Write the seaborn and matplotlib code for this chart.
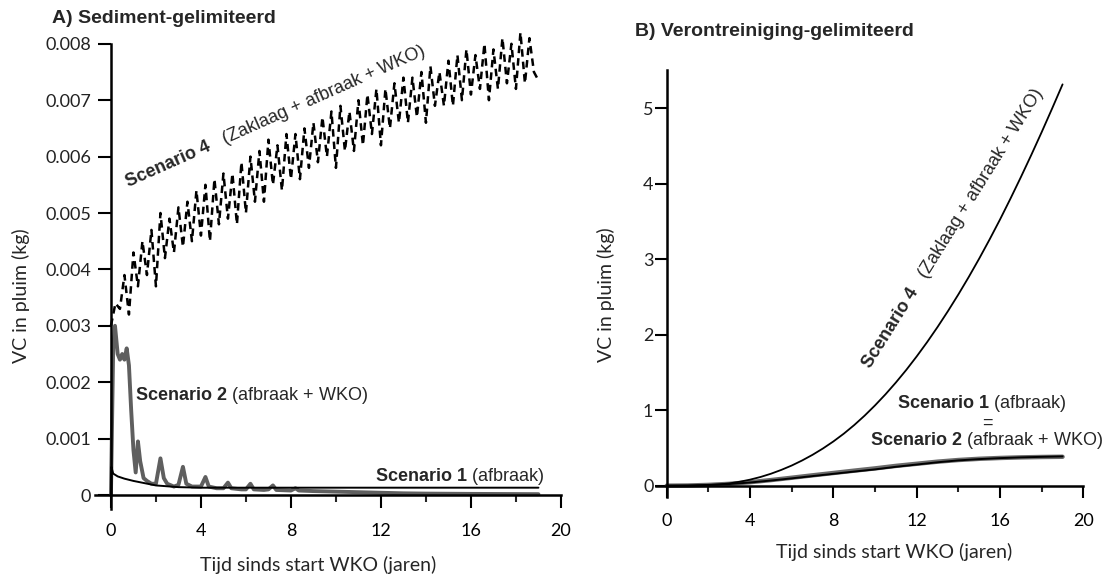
import matplotlib
matplotlib.use("Agg")
import numpy as np
import pandas as pd
import matplotlib.pyplot as plt
from matplotlib.ticker import FixedLocator, FixedFormatter
import seaborn as sns

# ---------------- data ----------------
# Panel A (sediment-limited); VC values read in gram, converted to kg when plotted
a_s4_t = [0.0, 0.2, 0.4, 0.6, 0.8, 1.0, 1.2, 1.4, 1.6, 1.8,
          2.0, 2.2, 2.4, 2.6, 2.8, 3.0, 3.2, 3.4, 3.6, 3.8,
          4.0, 4.2, 4.4, 4.6, 4.8, 5.0, 5.2, 5.4, 5.6, 5.8,
          6.0, 6.2, 6.4, 6.6, 6.8, 7.0, 7.2, 7.4, 7.6, 7.8,
          8.0, 8.2, 8.4, 8.6, 8.8, 9.0, 9.2, 9.4, 9.6, 9.8,
          10.0, 10.2, 10.4, 10.6, 10.8, 11.0, 11.2, 11.4, 11.6, 11.8,
          12.0, 12.2, 12.4, 12.6, 12.8, 13.0, 13.2, 13.4, 13.6, 13.8,
          14.0, 14.2, 14.4, 14.6, 14.8, 15.0, 15.2, 15.4, 15.6, 15.8,
          16.0, 16.2, 16.4, 16.6, 16.8, 17.0, 17.2, 17.4, 17.6, 17.8,
          18.0, 18.2, 18.4, 18.6, 18.8, 19.0]
a_s4_g = [3.0, 3.4, 3.3, 3.9, 3.2, 4.3, 3.7, 4.5, 3.9, 4.7,
          3.7, 5.0, 4.2, 4.9, 4.3, 5.1, 4.4, 5.2, 4.5, 5.4,
          4.6, 5.5, 4.5, 5.6, 4.8, 5.7, 4.9, 5.7, 4.8, 5.9,
          5.0, 6.0, 5.2, 6.1, 5.2, 6.3, 5.5, 6.2, 5.4, 6.4,
          5.6, 6.4, 5.6, 6.5, 5.8, 6.6, 5.9, 6.7, 6.0, 6.8,
          5.8, 6.9, 6.1, 6.8, 6.1, 7.0, 6.2, 7.1, 6.4, 7.2,
          6.2, 7.2, 6.5, 7.3, 6.6, 7.4, 6.6, 7.4, 6.7, 7.5,
          6.6, 7.6, 6.9, 7.5, 6.9, 7.7, 6.9, 7.8, 7.0, 7.9,
          7.1, 7.8, 7.2, 8.0, 7.0, 7.9, 7.2, 8.1, 7.3, 8.0,
          7.2, 8.2, 7.3, 8.1, 7.5, 7.35]

a_s2_t = [0, 0.1, 0.18, 0.3, 0.4, 0.5, 0.6, 0.7, 0.8, 0.9,
          1.0, 1.1, 1.2, 1.3, 1.45, 1.6, 1.8, 2.0, 2.2, 2.35,
          2.5, 2.8, 3.0, 3.2, 3.35, 3.6, 4.0, 4.2, 4.35, 4.7,
          5.0, 5.2, 5.35, 5.8, 6.0, 6.2, 6.35, 6.8, 7.0, 7.2,
          7.35, 8.0, 8.2, 8.35, 9.0, 10.0, 11.0, 12.0, 13.0, 14.0,
          16.0, 19.0]
a_s2_g = [0.0, 2.6, 3.0, 2.5, 2.4, 2.5, 2.4, 2.6, 2.3, 1.5,
          0.8, 0.4, 0.95, 0.6, 0.3, 0.25, 0.2, 0.2, 0.65, 0.3,
          0.2, 0.15, 0.18, 0.5, 0.2, 0.15, 0.15, 0.32, 0.15, 0.12,
          0.12, 0.22, 0.12, 0.1, 0.1, 0.2, 0.1, 0.09, 0.1, 0.17,
          0.09, 0.08, 0.12, 0.08, 0.07, 0.06, 0.05, 0.04, 0.03, 0.025,
          0.02, 0.015]

a_s1_t = [0, 0.02, 0.1, 0.3, 0.6, 1.0, 1.5, 2.0, 3.0, 4.0, 6.0, 10.0, 19.0]
a_s1_g = [0.0, 0.5, 0.38, 0.33, 0.29, 0.25, 0.21, 0.17, 0.14, 0.13, 0.13, 0.13, 0.13]

# Panel B (contamination-limited), kg
b4_t = [0, 0.5, 1, 1.5, 2, 2.5, 3, 3.5, 4, 4.5, 5, 5.5, 6, 6.5, 7, 7.5, 8, 8.5, 9, 9.5,
        10, 10.5, 11, 11.5, 12, 12.5, 13, 13.5, 14, 14.5, 15, 15.5, 16, 16.5, 17, 17.5,
        18, 18.5, 19]
b_s4 = [0, 0.0003, 0.001, 0.004, 0.008, 0.016, 0.030, 0.052, 0.080, 0.115,
        0.158, 0.209, 0.267, 0.334, 0.409, 0.493, 0.586, 0.689, 0.803, 0.928,
        1.064, 1.210, 1.367, 1.534, 1.713, 1.902, 2.102, 2.313, 2.534, 2.766,
        3.009, 3.263, 3.527, 3.803, 4.088, 4.382, 4.685, 4.997, 5.316]
b_t = [0, 1, 2, 3, 4, 5, 6, 7, 8, 9, 10, 11, 12, 13, 14, 15, 16, 17, 18, 19]
b_s1 = [0, 0.002, 0.01, 0.022, 0.042, 0.068, 0.097, 0.127, 0.157, 0.187,
        0.216, 0.25, 0.28, 0.31, 0.335, 0.352, 0.365, 0.375, 0.382, 0.388]
b_s2 = [0, 0.002, 0.01, 0.024, 0.046, 0.074, 0.105, 0.137, 0.168, 0.199,
        0.229, 0.262, 0.29, 0.318, 0.34, 0.356, 0.367, 0.375, 0.38, 0.383]

a_yticks = [0, 0.001, 0.002, 0.003, 0.004, 0.005, 0.006, 0.007, 0.008]
a_yticklabels = ["0", "0.001", "0.002", "0.003", "0.004", "0.005", "0.006", "0.007", "0.008"]
b_yticks = [0, 1, 2, 3, 4, 5]
b_yticklabels = ["0", "1", "2", "3", "4", "5"]
x_major = [0, 4, 8, 12, 16, 20]
x_major_labels = ["0", "4", "8", "12", "16", "20"]
x_minor = [2, 6, 10, 14, 18]

# ---------------- style ----------------
sns.set_style("white")
plt.rcParams["font.family"] = ["Lato", "DejaVu Sans"]
plt.rcParams["mathtext.fontset"] = "custom"
plt.rcParams["mathtext.rm"] = "Liberation Sans"
plt.rcParams["mathtext.bf"] = "Liberation Sans:bold"
ANN = ["Liberation Sans", "DejaVu Sans"]
FS_ANN = 13

fig = plt.figure(figsize=(11.12, 5.8), dpi=100)
axA = fig.add_axes([0.0854, 0.1222, 0.4251, 0.8412])
axB = fig.add_axes([0.5902, 0.1431, 0.3897, 0.7484])

dfA4 = pd.DataFrame({"t": a_s4_t, "v": np.array(a_s4_g) / 1000.0})
dfA2 = pd.DataFrame({"t": a_s2_t, "v": np.array(a_s2_g) / 1000.0})
dfA1 = pd.DataFrame({"t": a_s1_t, "v": np.array(a_s1_g) / 1000.0})

sns.lineplot(data=dfA2, x="t", y="v", ax=axA, color="#5f5f5f", lw=2.8,
             estimator=None, sort=False)
sns.lineplot(data=dfA1, x="t", y="v", ax=axA, color="black", lw=1.4,
             estimator=None, sort=False)
sns.lineplot(data=dfA4, x="t", y="v", ax=axA, color="black", lw=1.8,
             linestyle=(0, (3, 2)), estimator=None, sort=False, clip_on=False)

dfB4 = pd.DataFrame({"t": b4_t, "s4": b_s4})
dfB = pd.DataFrame({"t": b_t, "s1": b_s1, "s2": b_s2})
sns.lineplot(data=dfB, x="t", y="s2", ax=axB, color="#6a6a6a", lw=3.2, estimator=None)
sns.lineplot(data=dfB, x="t", y="s1", ax=axB, color="black", lw=1.4, estimator=None)
sns.lineplot(data=dfB4, x="t", y="s4", ax=axB, color="black", lw=1.3, estimator=None)


def style_axis(ax, xlim, ylim, ybounds, yticks, ylabels, xmaj_len, xmin_len,
               ylen, ypad, xpad):
    ax.set_xlim(*xlim)
    ax.set_ylim(*ylim)
    for s in ("top", "right"):
        ax.spines[s].set_visible(False)
    ax.spines["left"].set_position(("data", 0))
    ax.spines["bottom"].set_position(("data", 0))
    ax.spines["left"].set_bounds(*ybounds)
    ax.spines["bottom"].set_bounds(xlim[0], 20)
    for s in ("left", "bottom"):
        ax.spines[s].set_linewidth(1.8)
        ax.spines[s].set_color("black")
    ax.xaxis.set_major_locator(FixedLocator(x_major))
    ax.xaxis.set_major_formatter(FixedFormatter(x_major_labels))
    ax.xaxis.set_minor_locator(FixedLocator(x_minor))
    ax.yaxis.set_major_locator(FixedLocator(yticks))
    ax.yaxis.set_major_formatter(FixedFormatter(ylabels))
    ax.tick_params(axis="x", which="major", direction="out", length=xmaj_len, width=1.5,
                   pad=xpad, labelsize=13, colors="black", bottom=True)
    ax.tick_params(axis="x", which="minor", direction="out", length=xmin_len, width=1.5,
                   bottom=True)
    ax.tick_params(axis="y", which="major", direction="out", length=ylen, width=1.5,
                   pad=ypad, labelsize=13, colors="black", left=True)
    ax.grid(False)


style_axis(axA, (-0.71, 20.3), (-0.00025, 0.0084), (-0.00025, 0.008),
           a_yticks, a_yticklabels, 9.4, 5.0, 9.4, 5, 11)
style_axis(axB, (-0.5, 20.3), (-0.15, 5.6), (-0.15, 5.5),
           b_yticks, b_yticklabels, 8.3, 4.5, 8.6, 1, 11.5)
for lab in axA.get_yticklabels() + axB.get_yticklabels():
    lab.set_color("#222222")

for ax, (lx, ly), (xx, xy) in ((axA, (-0.1565, 0.437), (0.4717, -0.1146)),
                               (axB, (-0.116, 0.465), (0.5486, -0.1267))):
    ax.set_ylabel("VC in pluim (kg)", fontsize=14)
    ax.set_xlabel("Tijd sinds start WKO (jaren)", fontsize=14)
    ax.yaxis.set_label_coords(lx, ly)
    ax.xaxis.set_label_coords(xx, xy)
    ax.yaxis.label.set_va("center")
    ax.xaxis.label.set_va("center")

# titles
fig.text(52 / 1112, 1 - 18.5 / 580, "A) Sediment-gelimiteerd", fontsize=14,
         fontweight="bold", family=ANN, ha="left", va="center")
fig.text(635 / 1112, 1 - 31.7 / 580, "B) Verontreiniging-gelimiteerd", fontsize=14,
         fontweight="bold", family=ANN, ha="left", va="center")

# annotations panel A
axA.text(0.76, 0.00546, r"$\mathbf{Scenario\ 4}$   (Zaklaag + afbraak + WKO)",
         rotation=24, rotation_mode="anchor", ha="left", va="baseline",
         fontsize=FS_ANN, family=ANN)
axA.text(1.08, 0.00177, r"$\mathbf{Scenario\ 2}$ (afbraak + WKO)",
         ha="left", va="center", fontsize=FS_ANN, family=ANN)
axA.text(11.75, 0.000325, r"$\mathbf{Scenario\ 1}$ (afbraak)",
         ha="left", va="center", fontsize=FS_ANN, family=ANN)

# annotations panel B
axB.text(9.75, 1.53, r"$\mathbf{Scenario\ 4}$   (Zaklaag + afbraak + WKO)",
         rotation=58, rotation_mode="anchor", ha="left", va="baseline",
         fontsize=FS_ANN, family=ANN)
axB.text(15.14, 1.09, r"$\mathbf{Scenario\ 1}$ (afbraak)", ha="center", va="center",
         fontsize=FS_ANN, family=ANN)
axB.text(15.4, 0.83, "=", ha="center", va="center", fontsize=FS_ANN, family=ANN)
axB.text(15.35, 0.60, r"$\mathbf{Scenario\ 2}$ (afbraak + WKO)", ha="center", va="center",
         fontsize=FS_ANN, family=ANN)

fig.savefig("out.png", dpi=100)
